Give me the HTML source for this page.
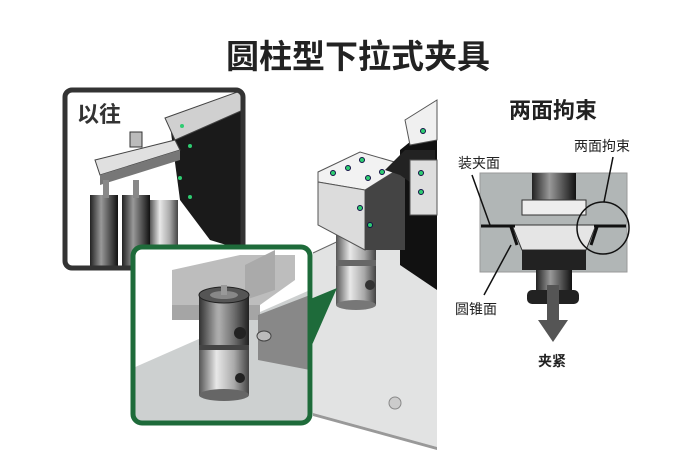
<!DOCTYPE html>
<html><head><meta charset="utf-8"><style>
html,body{margin:0;padding:0;background:#fff;}
svg{display:block}
text{font-family:"Liberation Sans","Noto Sans CJK SC",sans-serif;}
</style></head><body>
<svg width="676" height="454" viewBox="0 0 676 454" xmlns="http://www.w3.org/2000/svg">
<defs>
<linearGradient id="cyl" x1="0" x2="1" y1="0" y2="0">
<stop offset="0" stop-color="#555"/><stop offset="0.35" stop-color="#e8e8e8"/><stop offset="0.7" stop-color="#aaa"/><stop offset="1" stop-color="#444"/>
</linearGradient>
<linearGradient id="cyl2" x1="0" x2="1" y1="0" y2="0">
<stop offset="0" stop-color="#222"/><stop offset="0.4" stop-color="#999"/><stop offset="0.7" stop-color="#555"/><stop offset="1" stop-color="#111"/>
</linearGradient>
<clipPath id="lp"><rect x="65" y="90" width="178" height="178" rx="7"/></clipPath>
<clipPath id="gp"><rect x="133" y="247" width="177" height="176" rx="9"/></clipPath>
</defs>

<text x="358" y="68" font-size="33" font-weight="bold" text-anchor="middle" fill="#222">圆柱型下拉式夹具</text>

<!-- right big machine -->
<polygon points="313,253 437,195 437,447 313,413" fill="#e2e3e3"/>
<polygon points="313,413 437,447 437,450 313,416" fill="#999"/>
<line x1="313" y1="253" x2="437" y2="195" stroke="#666" stroke-width="1"/>
<circle cx="395" cy="403" r="6" fill="#ccc" stroke="#888"/>
<polygon points="400,150 437,120 437,290 400,265" fill="#111"/>
<polygon points="405,120 437,100 437,140 410,145" fill="#f0f0f0" stroke="#555"/>
<rect x="336" y="225" width="40" height="80" fill="url(#cyl)"/>
<ellipse cx="356" cy="305" rx="20" ry="5" fill="#777"/>
<rect x="336" y="260" width="40" height="6" fill="#666"/>
<circle cx="370" cy="285" r="5" fill="#333"/>
<polygon points="318,172 360,152 405,165 365,190 318,182" fill="#f2f2f2" stroke="#555"/>
<polygon points="318,182 365,190 365,250 318,225" fill="#dcdcdc" stroke="#555"/>
<polygon points="365,190 405,165 405,250 365,250" fill="#444"/>
<polygon points="385,170 405,150 435,150 435,200 400,175" fill="#222"/>
<rect x="410" y="160" width="27" height="55" fill="#dedede" stroke="#555"/>
<g fill="#2ecc71" stroke="#114">
<circle cx="333" cy="173" r="2.5"/><circle cx="348" cy="168" r="2.5"/><circle cx="362" cy="160" r="2.5"/><circle cx="368" cy="178" r="2.5"/><circle cx="382" cy="172" r="2.5"/><circle cx="360" cy="208" r="2.5"/><circle cx="370" cy="225" r="2.5"/><circle cx="421" cy="173" r="2.5"/><circle cx="421" cy="192" r="2.5"/><circle cx="423" cy="131" r="2.5"/>
</g>

<!-- left old panel -->
<g clip-path="url(#lp)">
<rect x="65" y="90" width="178" height="178" fill="#fff"/>
<polygon points="170,125 243,95 243,250 210,240 180,200" fill="#1a1a1a"/>
<polygon points="165,118 243,90 243,110 175,140" fill="#d0d0d0" stroke="#444"/>
<polygon points="95,160 175,140 180,150 100,175" fill="#e0e0e0" stroke="#444"/>
<polygon points="100,175 180,150 180,160 100,185" fill="#777"/>
<rect x="130" y="132" width="12" height="15" fill="#bbb" stroke="#333"/>
<rect x="90" y="195" width="28" height="75" fill="url(#cyl2)"/>
<rect x="122" y="195" width="28" height="75" fill="url(#cyl2)"/>
<rect x="150" y="200" width="28" height="65" fill="url(#cyl)"/>
<rect x="103" y="180" width="6" height="18" fill="#888"/>
<rect x="133" y="180" width="6" height="18" fill="#888"/>
<g fill="#2ecc71"><circle cx="182" cy="126" r="2"/><circle cx="190" cy="146" r="2"/><circle cx="180" cy="178" r="2"/><circle cx="190" cy="197" r="2"/></g>
</g>
<rect x="65" y="90" width="178" height="178" rx="7" fill="none" stroke="#333" stroke-width="5"/>
<text x="77" y="122" font-size="22" font-weight="bold" fill="#333">以往</text>

<!-- green panel -->
<polygon points="308,300 337,288 312,345" fill="#1e6b3a"/>
<g clip-path="url(#gp)">
<rect x="133" y="247" width="177" height="176" fill="#fff"/>
<polygon points="133,368 310,290 310,423 133,423" fill="#cdd0d0"/>
<polygon points="172,270 240,255 295,255 295,280 260,305 172,305" fill="#bdbdbd"/>
<polygon points="172,305 260,305 260,320 172,320" fill="#a5a5a5"/>
<polygon points="245,265 275,250 275,290 245,300" fill="#aaa"/>
<polygon points="258,315 310,295 310,370 258,360" fill="#888"/>
<rect x="199" y="295" width="50" height="100" fill="url(#cyl)"/>
<rect x="199" y="295" width="50" height="50" fill="url(#cyl2)" opacity="0.7"/>
<ellipse cx="224" cy="295" rx="25" ry="8" fill="#555" stroke="#222"/>
<ellipse cx="224" cy="295" rx="14" ry="4" fill="#888"/>
<rect x="221" y="285" width="6" height="10" fill="#999"/>
<rect x="199" y="345" width="50" height="5" fill="#444"/>
<ellipse cx="224" cy="395" rx="25" ry="6" fill="#666"/>
<circle cx="240" cy="333" r="6" fill="#222"/><circle cx="240" cy="378" r="5" fill="#222"/>
<ellipse cx="264" cy="336" rx="7" ry="5" fill="#bbb" stroke="#444"/>
</g>
<rect x="133" y="247" width="177" height="176" rx="9" fill="none" stroke="#1e6b3a" stroke-width="5"/>

<!-- right diagram -->
<text x="553" y="118" font-size="22" font-weight="bold" text-anchor="middle" fill="#222">两面拘束</text>
<rect x="480" y="173" width="147" height="99" fill="#b1b6b6" stroke="#999"/>
<rect x="532" y="173" width="44" height="28" fill="url(#cyl2)"/>
<rect x="522" y="200" width="64" height="15" fill="#eee" stroke="#333"/>
<polygon points="512,225 596,225 586,250 522,250" fill="#e5e5e5" stroke="#333"/>
<rect x="522" y="250" width="64" height="20" fill="#222"/>
<rect x="536" y="270" width="36" height="22" fill="url(#cyl2)"/>
<rect x="527" y="290" width="52" height="14" rx="5" fill="#222"/>
<polygon points="547,285 559,285 559,320 568,320 553,342 538,320 547,320" fill="#555"/>
<line x1="481" y1="226" x2="515" y2="226" stroke="#111" stroke-width="3"/>
<line x1="594" y1="226" x2="626" y2="226" stroke="#111" stroke-width="3"/>
<line x1="511" y1="227" x2="517" y2="245" stroke="#111" stroke-width="3"/>
<line x1="597" y1="227" x2="591" y2="245" stroke="#111" stroke-width="3"/>
<circle cx="603" cy="228" r="26" fill="none" stroke="#111" stroke-width="1.5"/>
<line x1="472" y1="175" x2="490" y2="225" stroke="#111" stroke-width="1.5"/>
<line x1="613" y1="157" x2="604" y2="202" stroke="#111" stroke-width="1.5"/>
<line x1="511" y1="245" x2="484" y2="295" stroke="#111" stroke-width="1.5"/>
<text x="458" y="168" font-size="14" fill="#222">装夹面</text>
<text x="574" y="151" font-size="14" fill="#222">两面拘束</text>
<text x="455" y="314" font-size="14" fill="#222">圆锥面</text>
<text x="552" y="366" font-size="14" font-weight="bold" text-anchor="middle" fill="#222">夹紧</text>
</svg>
</body></html>
